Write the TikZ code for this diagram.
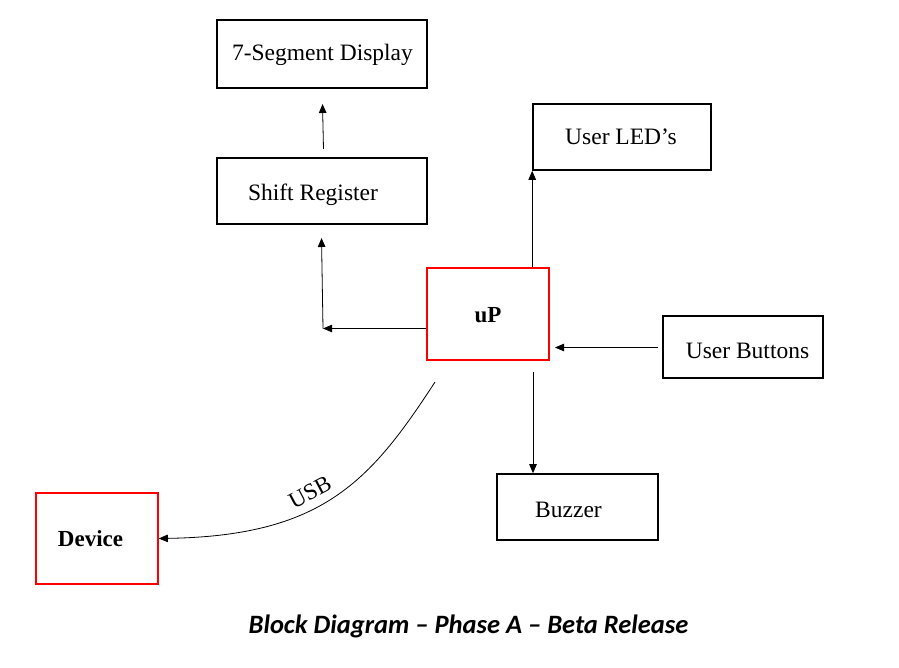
\documentclass[tikz,border=0pt]{standalone}
\usepackage{fontspec}
\setmainfont{Liberation Serif}
\newfontfamily\titlefont{Carlito}
\usetikzlibrary{arrows.meta}
\tikzset{
  blk/.style={draw=black, line width=1.6pt, inner sep=0pt},
  redblk/.style={draw=red, line width=1.6pt, inner sep=0pt},
  txt/.style={anchor=base, inner sep=0pt, font=\fontsize{23.5}{28}\selectfont},
  btxt/.style={anchor=base, inner sep=0pt, font=\fontsize{23}{28}\selectfont\bfseries},
  conn/.style={line width=0.8pt, -{Triangle[length=9pt,width=7.5pt]}},
}
\begin{document}
\begin{tikzpicture}[x=1pt,y=-1pt]
\useasboundingbox (0,0) rectangle (899,668);
% boxes
\node[blk, minimum width=210pt, minimum height=68pt] (seg) at (322,54) {};
\node[blk, minimum width=210pt, minimum height=66pt] (sr) at (322,191) {};
\node[blk, minimum width=178pt, minimum height=66pt] (led) at (622,137) {};
\node[redblk, minimum width=122pt, minimum height=92pt] (up) at (488,314) {};
\node[blk, minimum width=160pt, minimum height=62pt] (btn) at (743,347) {};
\node[blk, minimum width=161pt, minimum height=66pt] (buz) at (577.5,507) {};
\node[redblk, minimum width=122pt, minimum height=91pt] (dev) at (97,538.5) {};
% box texts
\node[txt] (segt) at (322.5,61) {7-Segment Display};
\node[txt] (srt) at (313,200.5) {Shift Register};
\node[txt] (ledt) at (621,145) {User LED’s};
\node[btxt] (upt) at (488,322) {uP};
\node[txt] (btnt) at (747.5,358) {User Buttons};
\node[txt] (buzt) at (568.5,517) {Buzzer};
\node[btxt] (devt) at (90.5,546.5) {Device};
% free ends
\coordinate (segA) at (323.5,149);
\coordinate (segB) at (322.5,104);
\coordinate (corner) at (323,328.5);
\coordinate (srB) at (321.5,238);
\coordinate (btnA) at (658,347.5);
\coordinate (btnB) at (555,347.5);
\coordinate (buzA) at (533,372);
\coordinate (usbA) at (435,382);
% connectors
\draw[conn] (segA) -- (segB);
\draw[conn] (up.west |- corner) -- (corner);
\draw[conn] (corner) -- (srB);
\draw[conn] (up.north -| led.south west) -- (led.south west);
\draw[conn] (btnA) -- (btnB);
\draw[conn] (buzA) -- (buzA |- buz.north);
\draw[conn] (usbA) .. controls (370,482) and (322,536) .. (dev.east);
\node[inner sep=0pt, font=\fontsize{23}{28}\selectfont, rotate=28] (usbl) at (310,492) {USB};
% title
\node[anchor=base, inner sep=0pt, font=\titlefont\fontsize{26.5}{30}\selectfont\bfseries\itshape] (title) at (468.5,633) {Block Diagram – Phase A – Beta Release};
\end{tikzpicture}
\end{document}
